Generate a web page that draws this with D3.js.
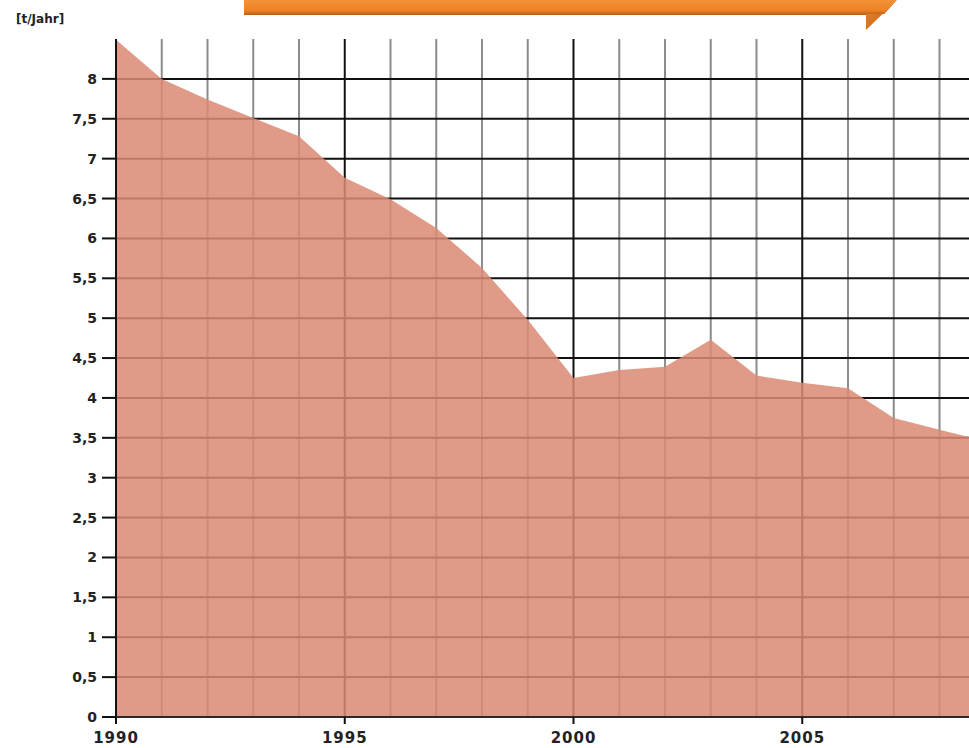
<!DOCTYPE html>
<html>
<head>
<meta charset="utf-8">
<script src="https://cdn.jsdelivr.net/npm/d3@7"></script>
<style>
  html, body { margin: 0; padding: 0; background: #fff; }
  svg { display: block; }
  text { font-family: "DejaVu Sans", Verdana, sans-serif; }
</style>
</head>
<body>
<script>
// ---- data ----
const years = [1990, 1991, 1992, 1993, 1994, 1995, 1996, 1997, 1998, 1999,
               2000, 2001, 2002, 2003, 2004, 2005, 2006, 2007, 2008, 2009];
const values = [8.49, 8.0, 7.74, 7.51, 7.28, 6.76, 6.49, 6.13, 5.63, 4.98,
                4.25, 4.35, 4.39, 4.73, 4.28, 4.19, 4.12, 3.75, 3.60, 3.46];
const yTicks = [0, 0.5, 1, 1.5, 2, 2.5, 3, 3.5, 4, 4.5, 5, 5.5, 6, 6.5, 7, 7.5, 8];
const xTicks = [1990, 1995, 2000, 2005];
const unitLabel = "[t/Jahr]";

const W = 969, H = 748;
const svg = d3.select("body").append("svg").attr("width", W).attr("height", H);

const x = d3.scaleLinear().domain([1990, 2009]).range([116, 116 + 19 * 45.75]);
const y = d3.scaleLinear().domain([0, 8.5]).range([717, 39]);

const fmt = d => String(d).replace(".", ",");

// banner
const defs = svg.append("defs");
const g1 = defs.append("linearGradient").attr("id", "bannerGrad")
  .attr("x1", 0).attr("y1", 0).attr("x2", 0).attr("y2", 1);
g1.append("stop").attr("offset", "0%").attr("stop-color", "#f59238");
g1.append("stop").attr("offset", "75%").attr("stop-color", "#ec8226");
g1.append("stop").attr("offset", "100%").attr("stop-color", "#c8641a");
const g2 = defs.append("linearGradient").attr("id", "tipGrad")
  .attr("x1", 0).attr("y1", 0).attr("x2", 1).attr("y2", 1);
g2.append("stop").attr("offset", "0%").attr("stop-color", "#f08a2c");
g2.append("stop").attr("offset", "100%").attr("stop-color", "#b85a14");

svg.append("path")
  .attr("d", "M244,0 L897,0 L884,14 L244,14 Z")
  .attr("fill", "url(#bannerGrad)");
svg.append("path")
  .attr("d", "M897,0 L866,30 L866,14 L884,14 Z")
  .attr("fill", "url(#tipGrad)");
svg.append("line").attr("x1", 244).attr("x2", 866).attr("y1", 14.5).attr("y2", 14.5)
  .attr("stroke", "#b8621e").attr("stroke-width", 1);

// clip
defs.append("clipPath").attr("id", "plotClip")
  .append("rect").attr("x", 116).attr("y", 30).attr("width", W - 116).attr("height", 717 - 30);

const plot = svg.append("g").attr("clip-path", "url(#plotClip)");

// vertical grid
const allYears = d3.range(1991, 2010);
plot.selectAll("line.vg").data(allYears).enter().append("line")
  .attr("x1", d => x(d)).attr("x2", d => x(d))
  .attr("y1", y(8.5)).attr("y2", y(0))
  .attr("stroke", d => d % 5 === 0 ? "#111" : "#8c8c8c")
  .attr("stroke-width", 2);

// horizontal grid
plot.selectAll("line.hg").data(yTicks.filter(d => d > 0)).enter().append("line")
  .attr("x1", x(1990)).attr("x2", W)
  .attr("y1", d => y(d)).attr("y2", d => y(d))
  .attr("stroke", "#111").attr("stroke-width", 2);

// area
const area = d3.area()
  .x((d, i) => x(years[i]))
  .y0(y(0))
  .y1(d => y(d));
plot.append("path").datum(values)
  .attr("d", area)
  .attr("fill", "#db8b74")
  .attr("fill-opacity", 0.86);

// y axis line
svg.append("line").attr("x1", 116).attr("x2", 116).attr("y1", y(8.5)).attr("y2", y(0))
  .attr("stroke", "#111").attr("stroke-width", 2);
// x axis line
svg.append("line").attr("x1", 116).attr("x2", W).attr("y1", y(0)).attr("y2", y(0))
  .attr("stroke", "#2a2a2a").attr("stroke-width", 2);

// y ticks and labels
const yAx = svg.append("g");
yAx.selectAll("line").data(yTicks).enter().append("line")
  .attr("x1", 102).attr("x2", 116)
  .attr("y1", d => y(d)).attr("y2", d => y(d))
  .attr("stroke", "#111").attr("stroke-width", 2);
yAx.selectAll("text").data(yTicks).enter().append("text")
  .attr("x", 97).attr("y", d => y(d) + 5)
  .attr("text-anchor", "end")
  .attr("font-size", 14).attr("font-weight", "bold").attr("fill", "#222")
  .text(fmt);

// x ticks and labels
const xAx = svg.append("g");
xAx.selectAll("line").data(xTicks).enter().append("line")
  .attr("x1", d => x(d)).attr("x2", d => x(d))
  .attr("y1", y(0)).attr("y2", y(0) + 7)
  .attr("stroke", "#111").attr("stroke-width", 2);
xAx.selectAll("text").data(xTicks).enter().append("text")
  .attr("x", d => x(d)).attr("y", 743)
  .attr("text-anchor", "middle")
  .attr("font-size", 15).attr("font-weight", "bold").attr("fill", "#222")
  .attr("letter-spacing", 1)
  .text(d => d);

// unit label
svg.append("text").attr("x", 16).attr("y", 23)
  .attr("font-size", 12).attr("font-weight", "bold").attr("fill", "#222")
  .text(unitLabel);
</script>
</body>
</html>
